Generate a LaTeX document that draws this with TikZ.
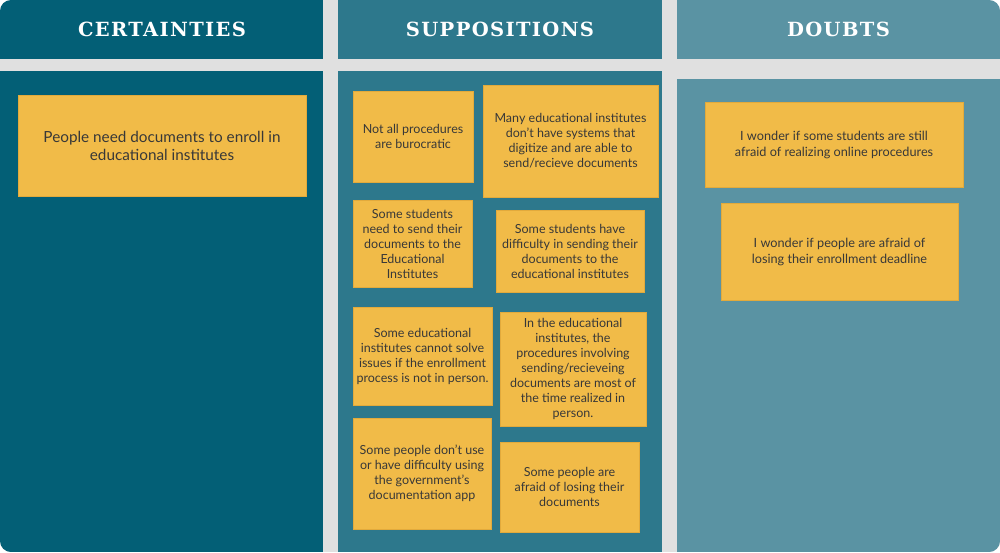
\documentclass[tikz,border=0pt]{standalone}
\usepackage{fontspec}
\setmainfont{Lato}
\newfontfamily\headfont[LetterSpace=7]{DejaVu Serif Bold}
\definecolor{colA}{HTML}{035F76}
\definecolor{colB}{HTML}{2D788C}
\definecolor{colC}{HTML}{5A93A3}
\definecolor{gapgray}{HTML}{E0E0E0}
\definecolor{notefill}{HTML}{F1BB48}
\definecolor{noteedge}{HTML}{E2AA3C}
\definecolor{notetext}{HTML}{383838}
\tikzset{
  note/.style={fill=notefill, draw=noteedge, line width=0.8pt, align=center,
    text=notetext, inner sep=0pt, font=\fontsize{12.5}{15}\selectfont},
  header/.style={text=white, font=\headfont\fontsize{19.5}{22}\selectfont}
}
\begin{document}
\begin{tikzpicture}[x=1pt,y=-1pt]
\useasboundingbox (0,0) rectangle (1000,552);
\fill[white] (0,0) rectangle (1000,552);
\begin{scope}
\clip[rounded corners=11pt] (0,0) rectangle (1000,552);
\fill[gapgray] (0,0) rectangle (1000,552);
% headers
\fill[colA] (0,0) rectangle (323,59);
\fill[colB] (338,0) rectangle (662,59);
\fill[colC] (677,0) rectangle (1000,59);
% bodies
\fill[colA] (0,71) rectangle (323,552);
\fill[colB] (338,71) rectangle (662,552);
\fill[colC] (677,79) rectangle (1000,552);
\end{scope}

\node[header] (h1) at (162,29.5) {CERTAINTIES};
\node[header] (h2) at (500,29.5) {SUPPOSITIONS};
\node[header] (h3) at (838.5,29.5) {DOUBTS};

% certainties
\node[note, minimum width=288pt, minimum height=101pt, font=\fontsize{15.3}{18}\selectfont] (c1) at (162,145.5)
  {People need documents to enroll in\\educational institutes};

% suppositions
\node[note, minimum width=120pt, minimum height=91pt] (s1) at (413,136.5)
  {Not all procedures\\are burocratic};
\node[note, minimum width=175pt, minimum height=112pt] (s2) at (570.5,141)
  {Many educational institutes\\don't have systems that\\digitize and are able to\\send/recieve documents};
\node[note, minimum width=119pt, minimum height=87pt] (s3) at (412.5,243.5)
  {Some students\\need to send their\\documents to the\\Educational\\Institutes};
\node[note, minimum width=148pt, minimum height=82pt] (s4) at (570,251)
  {Some students have\\difficulty in sending their\\documents to the\\educational institutes};
\node[note, minimum width=139pt, minimum height=98pt] (s5) at (422.5,356)
  {Some educational\\institutes cannot solve\\issues if the enrollment\\process is not in person.};
\node[note, minimum width=146pt, minimum height=114pt] (s6) at (573,369)
  {In the educational\\institutes, the\\procedures involving\\sending/recieveing\\documents are most of\\the time realized in\\person.};
\node[note, minimum width=138pt, minimum height=111pt] (s7) at (422,473.5)
  {Some people don't use\\or have difficulty using\\the government's\\documentation app};
\node[note, minimum width=139pt, minimum height=90pt] (s8) at (569.5,487)
  {Some people are\\afraid of losing their\\documents};

% doubts
\node[note, minimum width=258pt, minimum height=85pt, font=\fontsize{12.7}{16}\selectfont] (d1) at (834,144.5)
  {I wonder if some students are still\\afraid of realizing online procedures};
\node[note, minimum width=237pt, minimum height=97pt, font=\fontsize{12.7}{16}\selectfont] (d2) at (839.5,251.5)
  {I wonder if people are afraid of\\losing their enrollment deadline};
\end{tikzpicture}
\end{document}
